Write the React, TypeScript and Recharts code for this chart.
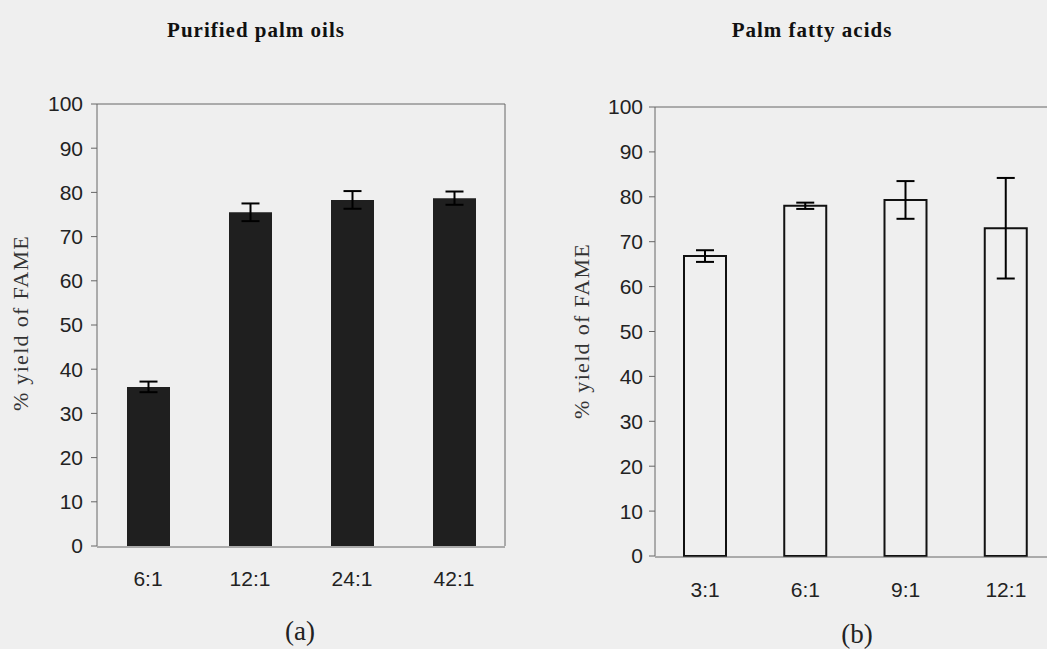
import React from 'react';
import { BarChart, Bar, XAxis, YAxis, ErrorBar, ReferenceLine } from 'recharts';

// (a) purified palm oils
const ratiosA = ['6:1', '12:1', '24:1', '42:1'];
const yieldA = [36, 75.5, 78.3, 78.7];
const errA = [1.2, 2, 2, 1.5];

// (b) palm fatty acids
const ratiosB = ['3:1', '6:1', '9:1', '12:1'];
const yieldB = [66.8, 78, 79.3, 73];
const errB = [1.3, 0.7, 4.2, 11.2];

const yTicks = [0, 10, 20, 30, 40, 50, 60, 70, 80, 90, 100];
const edgeTicks = [0, 1, 2, 3, 4];

const dataA = ratiosA.map((r, i) => ({ ratio: r, yield: yieldA[i], err: errA[i] }));
const dataB = ratiosB.map((r, i) => ({ ratio: r, yield: yieldB[i], err: errB[i] }));

const axisColor = '#666';
const tickFont = { fontFamily: 'Arial, "Liberation Sans", sans-serif', fontSize: 21, fill: '#222' };
const titleFont: React.CSSProperties = { fontFamily: '"Times New Roman", "Liberation Serif", serif', fontSize: 21, fontWeight: 'bold', letterSpacing: 1 };
const labelFont: React.CSSProperties = { fontFamily: '"Times New Roman", "Liberation Serif", serif', fontSize: 22, letterSpacing: 1.3 };
const panelFont: React.CSSProperties = { fontFamily: '"Times New Roman", "Liberation Serif", serif', fontSize: 27 };

const App: React.FC = () => {
  return (
    <div style={{ position: 'fixed', left: 0, top: 0, width: 1047, height: 649, overflow: 'hidden', background: '#efefef' }}>
      <div style={{ position: 'absolute', left: 0, top: 0 }}>
        <BarChart width={520} height={649} data={dataA} margin={{ top: 104, right: 14, left: 0, bottom: 101 }}>
          <YAxis domain={[0, 100]} ticks={yTicks} width={97} tickSize={6} tickMargin={8} tick={tickFont} stroke={axisColor} interval={0} />
          <YAxis yAxisId="frame" orientation="right" domain={[0, 100]} width={1} tick={false} tickLine={false} stroke={axisColor} />
          <XAxis dataKey="ratio" height={1} axisLine={false} tickLine={false} tickSize={0} tickMargin={25} tick={tickFont} interval={0} />
          <XAxis xAxisId="edge" type="number" domain={[0, 4]} ticks={edgeTicks} tick={false} tickSize={6} height={1} stroke={axisColor} allowDataOverflow />
          <ReferenceLine y={100} stroke={axisColor} />
          <Bar dataKey="yield" fill="#1f1f1f" barSize={43} isAnimationActive={false}>
            <ErrorBar dataKey="err" width={9} stroke="#000" strokeWidth={2} />
          </Bar>
          <text x={256} y={37} textAnchor="middle" style={titleFont} fill="#111">Purified palm oils</text>
          <text x={28} y={323} textAnchor="middle" transform="rotate(-90 28 323)" style={labelFont} fill="#333">% yield of FAME</text>
          <text x={300} y={640} textAnchor="middle" style={panelFont} fill="#222">(a)</text>
        </BarChart>
      </div>
      <div style={{ position: 'absolute', left: 527, top: 0 }}>
        <BarChart width={540} height={649} data={dataB} margin={{ top: 107, right: 11, left: 0, bottom: 91 }}>
          <YAxis domain={[0, 100]} ticks={yTicks} width={128} tickSize={6} tickMargin={6} tick={tickFont} stroke={axisColor} interval={0} />
          <XAxis dataKey="ratio" height={1} axisLine={false} tickLine={false} tickSize={0} tickMargin={26} tick={tickFont} interval={0} />
          <XAxis xAxisId="edge" type="number" domain={[0, 4]} ticks={edgeTicks} tick={false} tickSize={6} height={1} stroke={axisColor} allowDataOverflow />
          <ReferenceLine y={100} stroke={axisColor} />
          <Bar dataKey="yield" fill="#efefef" stroke="#111" strokeWidth={2} barSize={42} isAnimationActive={false}>
            <ErrorBar dataKey="err" width={9} stroke="#000" strokeWidth={2} />
          </Bar>
          <text x={285} y={37} textAnchor="middle" style={titleFont} fill="#111">Palm fatty acids</text>
          <text x={62} y={331} textAnchor="middle" transform="rotate(-90 62 331)" style={labelFont} fill="#333">% yield of FAME</text>
          <text x={330} y={643} textAnchor="middle" style={panelFont} fill="#222">(b)</text>
        </BarChart>
      </div>
    </div>
  );
};

export default App;
